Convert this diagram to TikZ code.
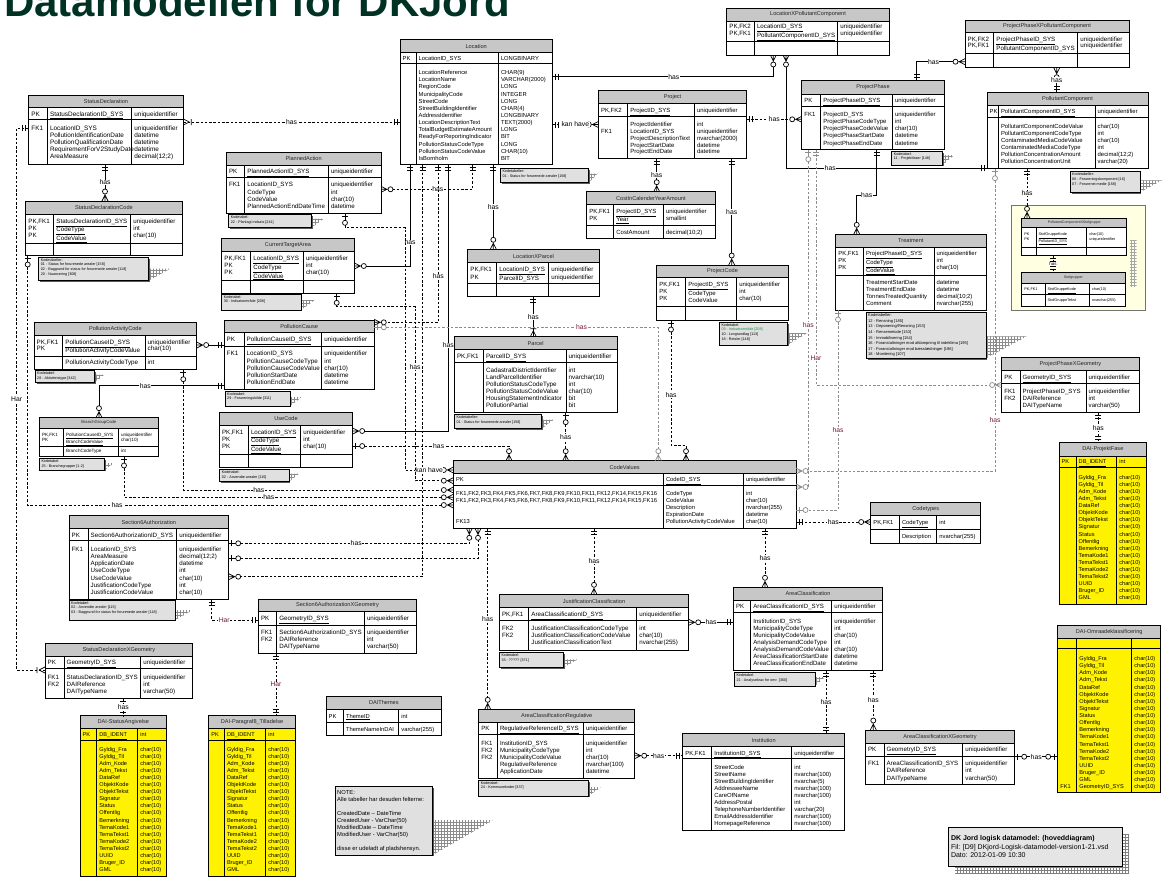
\documentclass[tikz,border=0pt]{standalone}
\usepackage{fontspec}
\setmainfont{Liberation Sans}
\usetikzlibrary{arrows.meta, patterns}

\definecolor{ttlgreen}{RGB}{0,50,36}
\definecolor{harred}{RGB}{115,25,60}
\definecolor{codegreen}{RGB}{30,140,60}
\definecolor{stofbg}{RGB}{255,255,226}

%% crow foot ends
\pgfdeclarearrow{
  name = erOne,
  setup code = {
    \pgfarrowssettipend{0pt}
    \pgfarrowssetlineend{0pt}
    \pgfarrowssetbackend{-7pt}
    \pgfarrowssetvisualbackend{-7pt}
    \pgfarrowsupperhullpoint{0pt}{3pt}
    \pgfarrowsupperhullpoint{-7pt}{3pt}
  },
  drawing code = {
    \pgfsetdash{}{0pt}
    \pgfpathmoveto{\pgfqpoint{-3pt}{3pt}}\pgfpathlineto{\pgfqpoint{-3pt}{-3pt}}
    \pgfpathmoveto{\pgfqpoint{-6pt}{3pt}}\pgfpathlineto{\pgfqpoint{-6pt}{-3pt}}
    \pgfusepathqstroke
  }
}
\pgfdeclarearrow{
  name = erZOne,
  setup code = {
    \pgfarrowssettipend{0pt}
    \pgfarrowssetlineend{-12pt}
    \pgfarrowssetbackend{-12pt}
    \pgfarrowssetvisualbackend{-12pt}
    \pgfarrowsupperhullpoint{0pt}{3pt}
    \pgfarrowsupperhullpoint{-12pt}{3pt}
  },
  drawing code = {
    \pgfsetdash{}{0pt}
    \pgfpathmoveto{\pgfqpoint{0pt}{0pt}}\pgfpathlineto{\pgfqpoint{-7pt}{0pt}}
    \pgfpathmoveto{\pgfqpoint{-3pt}{3pt}}\pgfpathlineto{\pgfqpoint{-3pt}{-3pt}}
    \pgfusepathqstroke
    \pgfpathcircle{\pgfqpoint{-9.5pt}{0pt}}{2.5pt}
    \pgfusepathqstroke
  }
}
\pgfdeclarearrow{
  name = erZMany,
  setup code = {
    \pgfarrowssettipend{0pt}
    \pgfarrowssetlineend{-12pt}
    \pgfarrowssetbackend{-12pt}
    \pgfarrowssetvisualbackend{-12pt}
    \pgfarrowsupperhullpoint{0pt}{3pt}
    \pgfarrowsupperhullpoint{-12pt}{3pt}
  },
  drawing code = {
    \pgfsetdash{}{0pt}
    \pgfpathmoveto{\pgfqpoint{-6pt}{0pt}}\pgfpathlineto{\pgfqpoint{0pt}{3pt}}
    \pgfpathmoveto{\pgfqpoint{-6pt}{0pt}}\pgfpathlineto{\pgfqpoint{0pt}{-3pt}}
    \pgfpathmoveto{\pgfqpoint{-7pt}{0pt}}\pgfpathlineto{\pgfqpoint{0pt}{0pt}}
    \pgfusepathqstroke
    \pgfpathcircle{\pgfqpoint{-9.5pt}{0pt}}{2.5pt}
    \pgfusepathqstroke
  }
}
\pgfdeclarearrow{
  name = erOMany,
  setup code = {
    \pgfarrowssettipend{0pt}
    \pgfarrowssetlineend{0pt}
    \pgfarrowssetbackend{-9pt}
    \pgfarrowssetvisualbackend{-9pt}
    \pgfarrowsupperhullpoint{0pt}{3pt}
    \pgfarrowsupperhullpoint{-9pt}{3pt}
  },
  drawing code = {
    \pgfsetdash{}{0pt}
    \pgfpathmoveto{\pgfqpoint{-6pt}{0pt}}\pgfpathlineto{\pgfqpoint{0pt}{3pt}}
    \pgfpathmoveto{\pgfqpoint{-6pt}{0pt}}\pgfpathlineto{\pgfqpoint{0pt}{-3pt}}
    \pgfpathmoveto{\pgfqpoint{-8pt}{3pt}}\pgfpathlineto{\pgfqpoint{-8pt}{-3pt}}
    \pgfusepathqstroke
  }
}

\tikzset{
  tblbox/.style={fill=\tfill, inner sep=0pt, outer sep=0pt},
  tblline/.style={line width=0.8pt},
  hdrfill/.style={fill=black!22},
  ttl/.style={inner sep=0pt, text=black!85, font=\fontsize{\tsz}{\tsz}\selectfont},
  cell/.style={anchor=north west, inner sep=0pt, align=left, font=\fontsize{\fsz}{\lsk}\selectfont},
  notebox/.style={draw, fill=black!12, line width=0.5pt, inner sep=0pt, outer sep=0pt},
  notetxt/.style={anchor=north west, inner sep=0pt, align=left, font=\fontsize{\nsz}{\nlsk}\selectfont},
  con/.style={line width=0.7pt},
  dcon/.style={con, dash pattern=on 2.5pt off 1.8pt},
  gcon/.style={dcon, draw=black!45},
  lbl/.style={fill=white, inner sep=0.4pt, font=\fontsize{6.8}{7}\selectfont},
  glbl/.style={lbl, text=harred},
}

\def\tfill{white}\def\fsz{5.9}\def\lsk{7.1}\def\tsz{5.6}
\def\nsz{3.7}\def\nlsk{4.7}

%% table : box, header, key line, two column lines
\def\ertbl#1(#2,#3)(#4,#5)[#6,#7][#8,#9]{%
  \def\tid{#1}\def\tx{#2}\def\tca{#8}\def\tcb{#9}%
  \def\tcx{(#2+#4)/2}\def\tcy{(#3+#6)/2}%
  \node[tblbox, minimum width={#4-#2}, minimum height={#5-#3}] (#1) at ({(#2+#4)/2},{(#3+#5)/2}) {};
  \fill[hdrfill] (#2,#3) rectangle (#4,#6);
  \draw[tblline] (#2,#6) -- (#4,#6) (#2,#7) -- (#4,#7) (#8,#6) -- (#8,#5) (#9,#6) -- (#9,#5);
  \draw[tblline] (#1.north west) rectangle (#1.south east);
}
\newcommand\ertitle[1]{\node[ttl] (\tid h) at ({\tcx},{\tcy}) {#1};}
%% rows of one part: suffix, centre of first row, keys, names, types
\newcommand\ersec[5]{%
  \node[cell] (\tid#1k) at ({\tx+2.5},{#2+0.36*\fsz-0.7*\lsk}) {\strut#3};
  \node[cell] (\tid#1n) at ({\tca+2.5},{#2+0.36*\fsz-0.7*\lsk}) {\strut#4};
  \node[cell] (\tid#1t) at ({\tcb+2.5},{#2+0.36*\fsz-0.7*\lsk}) {\strut#5};
}
%% code table note with shadow
\def\ernote#1(#2,#3)(#4,#5)[#6,#7]#8{%
  \fill[pattern=grid, pattern color=black!45] (#4,#5-#7) -- (#4+#6,#5-#7) -- (#4,#5) -- cycle;
  \draw[black!65, line width=1.2pt] (#2+1.5,#5+0.6) -- (#4+0.6,#5+0.6) -- (#4+0.6,#3+1.5);
  \node[notebox, minimum width={#4-#2}, minimum height={#5-#3}] (#1) at ({(#2+#4)/2},{(#3+#5)/2}) {};
  \node[notetxt] (#1x) at (#2+2,#3+1.2) {#8};
}

\def\dainames{Gyldig\_Fra\\Gyldig\_Til\\Adm\_Kode\\Adm\_Tekst\\DataRef\\ObjektKode\\ObjektTekst\\Signatur\\Status\\Offentlig\\Bemerkning\\TemaKode1\\TemaTekst1\\TemaKode2\\TemaTekst2\\UUID\\Bruger\_ID\\GML}
\def\daitypes{char(10)\\char(10)\\char(10)\\char(10)\\char(10)\\char(10)\\char(10)\\char(10)\\char(10)\\char(10)\\char(10)\\char(10)\\char(10)\\char(10)\\char(10)\\char(10)\\char(10)\\char(10)}

\begin{document}
\begin{tikzpicture}[x=1pt, y=-1pt]
\useasboundingbox (0,0) rectangle (1167,879);
\clip (0,0) rectangle (1167,879);

\node[anchor=base west, inner sep=0pt, text=ttlgreen, font=\fontsize{42}{44}\selectfont\bfseries] (title) at (4,16) {Datamodellen for DKJord};

 %% ***Table : StatusDeclaration***
\def\fsz{6.4}
\ertbl{sdecl}(28.7,95)(183.3,164)[107,119.5][47.3,131.7]
\ertitle{StatusDeclaration}
\ersec{p}{113.5}{PK}{\underline{StatusDeclarationID\_SYS}}{uniqueidentifier}
\ersec{a}{128}{FK1}{LocationID\_SYS\\PollutionIdentificationDate\\PollutionQualificationDate\\RequirementForV2StudyDate\\AreaMeasure}{uniqueidentifier\\datetime\\datetime\\datetime\\decimal(12;2)}

 %% ***Table : StatusDeclarationCode***
\def\fsz{6.2}
\ertbl{sdcode}(25.7,201)(182.3,255)[214.3,243.3][53.7,130.7]
\ertitle{StatusDeclarationCode}
\ersec{p}{220.7}{PK,FK1\\PK\\PK}{\underline{StatusDeclarationID\_SYS}\\\underline{CodeType}\\\underline{CodeValue}}{uniqueidentifier\\int\\char(10)}
\ernote{sdcnote}(38.7,257)(148.3,280.7)[22,12]{Kodetabeller:\\01 - Status for forurenede arealer [158]\\02 - Baggrund for status for forurenede arealer [118]\\20 - Nuancering [308]}

 %% ***Table : Location***
\def\fsz{5.8}\def\lsk{7.15}
\ertbl{loc}(400,39.3)(552.3,164)[52.7,63][416,498.3]
\ertitle{Location}
\ersec{p}{58}{PK}{\underline{LocationID\_SYS}}{LONGBINARY}
\ersec{a}{72.3}{}{LocationReference\\LocationName\\RegionCode\\MunicipalityCode\\StreetCode\\StreetBuildingIdentifier\\AddressIdentifier\\LocationDescriptionText\\TotalBudgetEstimateAmount\\ReadyForReportingIndicator\\PollutionStatusCodeType\\PollutionStatusCodeValue\\IsBornholm}{CHAR(9)\\VARCHAR(2000)\\LONG\\INTEGER\\LONG\\CHAR(4)\\LONGBINARY\\TEXT(2000)\\LONG\\BIT\\LONG\\CHAR(10)\\BIT}
\ernote{locnote}(500.3,168.7)(588.7,182.7)[9,9]{Kodetabeller:\\01 - Status for forurenede arealer [158]}

 %% ***Table : LocationXPollutantComponent***
\def\fsz{6.2}\def\lsk{7.3}
\ertbl{lxpc}(726.7,8)(889.3,55)[21,41.7][754.3,837.7]
\ertitle{LocationXPollutantComponent}
\ersec{p}{26}{PK,FK2\\PK,FK1}{\underline{LocationID\_SYS}\\\underline{PollutantComponentID\_SYS}}{uniqueidentifier\\uniqueidentifier}

 %% ***Table : ProjectPhaseXPollutantComponent***
\def\lsk{6.5}
\ertbl{ppxpc}(965,20)(1129,67.7)[32.3,53.3][993.7,1077.7]
\ertitle{ProjectPhaseXPollutantComponent}
\ersec{p}{39}{PK,FK2\\PK,FK1}{\underline{ProjectPhaseID\_SYS}\\\underline{PollutantComponentID\_SYS}}{uniqueidentifier\\uniqueidentifier}

 %% ***Table : ProjectPhase***
\def\fsz{6.0}\def\lsk{7.2}
\ertbl{pphase}(801.7,80.3)(944.3,149.7)[94,106][820.7,892.3]
\ertitle{ProjectPhase}
\ersec{p}{100}{PK}{\underline{ProjectPhaseID\_SYS}}{uniqueidentifier}
\ersec{a}{114}{FK1}{ProjectID\_SYS\\ProjectPhaseCodeType\\ProjectPhaseCodeValue\\ProjectPhaseStartDate\\ProjectPhaseEndDate}{uniqueidentifier\\int\\char(10)\\datetime\\datetime}
\ernote{ppnote}(891.7,151)(942.3,165)[12,10]{Kodetabel:\\11 - Projektfaser [148]}

 %% ***Table : PollutantComponent***
\def\fsz{5.9}\def\lsk{7.05}
\ertbl{pcomp}(987,92.3)(1148,168.7)[105.7,117.3][998.3,1095]
\ertitle{PollutantComponent}
\ersec{p}{111.5}{PK}{\underline{PollutantComponentID\_SYS}}{uniqueidentifier}
\ersec{a}{126}{}{PollutantComponentCodeValue\\PollutantComponentCodeType\\ContaminatedMediaCodeValue\\ContaminatedMediaCodeType\\PollutionConcentrationAmount\\PollutionConcentrationUnit}{char(10)\\int\\char(10)\\int\\decimal(12;2)\\varchar(20)}
\ernote{pcnote}(1070,171.7)(1140,192.3)[22,12]{Kodetabeller:\\06 - Forureningskomponent [16]\\07 - Forurenet medie [158]}

 %% ***Table : Project***
\def\fsz{6.0}\def\lsk{6.9}
\ertbl{proj}(598.3,90.3)(746.7,158.3)[103.3,116][627.7,694.3]
\ertitle{Project}
\ersec{p}{109.7}{PK,FK2}{\underline{ProjectID\_SYS}}{uniqueidentifier}
\ersec{a}{124}{\\FK1}{ProjectIdentifier\\LocationID\_SYS\\ProjectDescriptionText\\ProjectStartDate\\ProjectEndDate}{int\\uniqueidentifier\\nvarchar(2000)\\datetime\\datetime}

 %% ***Table : CostInCalenderYearAmount***
\def\lsk{6.7}
\ertbl{ccya}(586.7,191.7)(715,238.3)[204.3,225.7][613.7,663.3]
\ertitle{CostInCalenderYearAmount}
\ersec{p}{211}{PK,FK1\\PK}{\underline{ProjectID\_SYS}\\\underline{Year}}{uniqueidentifier\\smallint}
\ersec{a}{231.7}{}{CostAmount}{decimal(10;2)}

 %% ***Table : PlannedAction***
\def\fsz{6.2}\def\lsk{7.3}
\ertbl{plact}(226.3,152)(381,213.3)[165,177.3][244.7,328.3]
\ertitle{PlannedAction}
\ersec{p}{171.3}{PK}{\underline{PlannedActionID\_SYS}}{uniqueidentifier}
\ersec{a}{184.3}{FK1}{LocationID\_SYS\\CodeType\\CodeValue\\PlannedActionEndDateTime}{uniqueidentifier\\int\\char(10)\\datetime}
\ernote{panote}(228.7,214.3)(311.7,227.7)[12,9]{Kodetabel:\\22 - Planlagt indsats [241]}

 %% ***Table : CurrentTargetArea***
\def\lsk{7.1}
\ertbl{cta}(221.7,238.7)(354.3,293.3)[251,280.7][250.7,303.3]
\ertitle{CurrentTargetArea}
\ersec{p}{258.2}{PK,FK1\\PK\\PK}{\underline{LocationID\_SYS}\\\underline{CodeType}\\\underline{CodeValue}}{uniqueidentifier\\int\\char(10)}
\ernote{ctanote}(221.7,294)(301,310)[14,10]{Kodetabel:\\30 - Indsatsområde [208]}

 %% ***Table : LocationXParcel***
\def\lsk{7.6}
\ertbl{lxp}(467.7,249.3)(599.3,296.7)[262.7,283.3][496.7,548.7]
\ertitle{LocationXParcel}
\ersec{p}{269}{PK,FK1\\PK}{\underline{LocationID\_SYS}\\\underline{ParcelID\_SYS}}{uniqueidentifier\\uniqueidentifier}

 %% ***Table : ProjectCode***
\def\fsz{6.0}\def\lsk{7}
\ertbl{pcode}(656.7,265)(788.3,320)[277.7,306][685.7,736.7]
\ertitle{ProjectCode}
\ersec{p}{284.3}{PK,FK1\\PK\\PK}{\underline{ProjectID\_SYS}\\CodeType\\CodeValue}{uniqueidentifier\\int\\char(10)}
\ernote{pcodenote}(719.3,322)(787.3,345)[20,12]{Kodetabel:\\\textcolor{codegreen}{09 - Indsatsområde [208]}\\10 - Lovgrundlag [113]\\18 - Retsler [148]}

 %% ***Table : Treatment***
\def\fsz{5.9}\def\lsk{6.8}
\ertbl{treat}(835.7,234.3)(986,310)[247.3,275][863.3,934]
\ertitle{Treatment}
\ersec{p}{253.3}{PK,FK1\\PK\\PK}{\underline{ProjectPhaseID\_SYS}\\\underline{CodeType}\\\underline{CodeValue}}{uniqueidentifier\\int\\char(10)}
\def\lsk{7}
\ersec{a}{282.3}{}{TreatmentStartDate\\TreatmentEndDate\\TonnesTreatedQuantity\\Comment}{datetime\\datetime\\decimal(10;2)\\nvarchar(255)}
\def\nsz{4.0}\def\nlsk{5.6}
\ernote{trnote}(866,312.3)(986,358.3)[40.7,22]{Kodetabeller:\\12 - Rensning [185]\\13 - Deponering/Rensning [153]\\14 - Rensemetode [153]\\15 - Immobilisering [154]\\16 - Foranstaltninger mod afdampning til indeklima [195]\\17 - Foranstaltninger mod bæsslædninger [196]\\18 - Monitering [107]}
\def\nsz{3.7}\def\nlsk{4.7}

 %% ***Stofgruppe frame***
\node[draw=black!55, fill=stofbg, line width=0.6pt, inner sep=0pt, minimum width=133.8, minimum height=104.3] (stofframe) at (1078.6,257.85) {};
\fill[pattern=grid, pattern color=black!35] (1130,240) rectangle (1136.7,286.7);
\def\fsz{3.8}\def\lsk{4.4}\def\tsz{3.6}
\ertbl{pcxs}(1021.7,218.3)(1126.7,255.7)[227.7,247][1036,1086.7]
\ertitle{PollutantComponentXStofgruppe}
\ersec{p}{234.3}{PK\\PK}{\underline{StofGruppeKode}\\\underline{PollutantID\_SYS}}{char(10)\\uniqueidentifier}
\ertbl{stof}(1021.7,272.7)(1125,306)[283.3,294][1045,1089.3]
\ertitle{Stofgrupper}
\ersec{p}{289}{PK,FK1}{\underline{StofGruppeKode}}{char(10)}
\ersec{a}{300}{}{StofGruppeTekst}{nvarchar(255)}

 %% ***Table : ProjectPhaseXGeometry***
\def\fsz{6.1}\def\lsk{7}\def\tsz{5.6}
\ertbl{ppxg}(1001.7,357.3)(1139,412.7)[370.7,383.3][1020,1086]
\ertitle{ProjectPhaseXGeometry}
\ersec{p}{376.7}{PK}{\underline{GeometryID\_SYS}}{uniqueidentifier}
\ersec{a}{391}{FK1\\FK2}{ProjectPhaseID\_SYS\\DAIReference\\DAITypeName}{uniqueidentifier\\int\\varchar(50)}

 %% ***Table : DAI-ProjektFase***
\def\tfill{yellow}\def\fsz{5.6}\def\lsk{7.06}
\ertbl{daipf}(1059,442.7)(1146.7,604.3)[456,467.3][1076,1116.7]
\ertitle{DAI-ProjektFase}
\ersec{p}{461.7}{PK}{\underline{DB\_IDENT}}{int}
\ersec{a}{477.3}{}{\dainames}{\daitypes}

 %% ***Table : DAI-Omraadeklassificering***
\def\lsk{7.13}
\ertbl{daiok}(1057.7,625.7)(1160.7,792.7)[638.3,648.3][1076.7,1131.7]
\ertitle{DAI-Omraadeklassificering}
\ersec{a}{658.3}{\\[121.2pt]FK1}{\dainames\\GeometryID\_SYS}{\daitypes\\char(10)}

 %% ***Table : DAI-StatusAngivelse***
\def\lsk{7.08}
\ertbl{daisa}(80,715.7)(166.7,876)[728.3,740][96.7,137.7]
\ertitle{DAI-StatusAngivelse}
\ersec{p}{734.3}{PK}{\underline{DB\_IDENT}}{int}
\ersec{a}{749}{}{\dainames}{\daitypes}

 %% ***Table : DAI-Paragraf8_Tilladelse***
\ertbl{daip8}(208.7,715.7)(295.3,876)[728.3,740][224.3,265.7]
\ertitle{DAI-Paragraf8\_Tilladelse}
\ersec{p}{734.3}{PK}{\underline{DB\_IDENT}}{int}
\ersec{a}{749}{}{\dainames}{\daitypes}

 %% ***Table : CodeValues***
\def\tfill{white}\def\fsz{5.8}\def\lsk{7.1}
\ertbl{cv}(453.3,460.7)(796,528.3)[473.3,485][663.3,743.3]
\ertitle{CodeValues}
\ersec{p}{479}{PK}{\underline{CodeID\_SYS}}{uniqueidentifier}
\ersec{a}{493.3}{FK1,FK2,FK3,FK4,FK5,FK6,FK7,FK8,FK9,FK10,FK11,FK12,FK14,FK15,FK16\\FK1,FK2,FK3,FK4,FK5,FK6,FK7,FK8,FK9,FK10,FK11,FK12,FK14,FK15,FK16\\[14.2pt]FK13}{CodeType\\CodeValue\\Description\\ExpirationDate\\PollutionActivityCodeValue}{int\\char(10)\\nvarchar(255)\\datetime\\char(10)}

 %% ***Table : Codetypes***
\ertbl{ctypes}(870.7,502.7)(980.7,543.3)[515,529.3][899.3,936.7]
\ertitle{Codetypes}
\ersec{p}{522}{PK,FK1}{\underline{CodeType}}{int}
\ersec{a}{536.3}{}{Description}{nvarchar(255)}

 %% ***Table : Parcel***
\def\fsz{6.3}\def\lsk{7}
\ertbl{parcel}(454.3,336.7)(617,412.7)[349.3,362.3][483.3,566]
\ertitle{Parcel}
\ersec{p}{356}{PK,FK1}{\underline{ParcelID\_SYS}}{uniqueidentifier}
\ersec{a}{370}{}{CadastralDistrictIdentifier\\LandParcelIdentifier\\PollutionStatusCodeType\\PollutionStatusCodeValue\\HousingStatementIndicator\\PollutionPartial}{int\\nvarchar(10)\\int\\char(10)\\bit\\bit}
\ernote{parcelnote}(454.3,414.3)(541.7,428.7)[12,9]{Kodetabeller:\\01 - Status for forurenede arealer [158]}

 %% ***Table : PollutionActivityCode***
\def\lsk{6.7}
\ertbl{pac}(34,322.3)(196.7,369.7)[335,356][62.7,145]
\ertitle{PollutionActivityCode}
\ersec{p}{341.7}{PK,FK1\\PK}{\underline{PollutionCauseID\_SYS}\\\underline{PollutionActivityCodeValue}}{uniqueidentifier\\char(10)}
\ersec{a}{362.3}{}{PollutionActivityCodeType}{int}
\ernote{pacnote}(35,370.7)(94.3,382.7)[10,8]{Kodetabel:\\28 - Aktivitetstype [342]}

 %% ***Table : PollutionCause***
\def\lsk{7.25}
\ertbl{pcause}(224,320)(374.3,389)[332.7,346][244,321.7]
\ertitle{PollutionCause}
\ersec{p}{339.3}{PK}{\underline{PollutionCauseID\_SYS}}{uniqueidentifier}
\ersec{a}{353.3}{FK1}{LocationID\_SYS\\PollutionCauseCodeType\\PollutionCauseCodeValue\\PollutionStartDate\\PollutionEndDate}{uniqueidentifier\\int\\char(10)\\datetime\\datetime}
\ernote{pcausenote}(225,391)(290,406)[12,9]{Kodetabel:\\29 - Forureningskilde [311]}

 %% ***Table : BranchGroupCode***
\def\fsz{4.6}\def\lsk{5.7}\def\tsz{4.2}
\ertbl{bgc}(39.3,417.7)(158.3,456)[428,446.3][63.3,118.3]
\ertitle{BranchGroupCode}
\ersec{p}{434.3}{PK,FK1\\PK}{\underline{PollutionCauseID\_SYS}\\\underline{BranchCodeValue}}{uniqueidentifier\\char(10)}
\ersec{a}{451}{}{BranchCodeType}{int}
\ernote{bgcnote}(39.3,458.3)(104.3,470)[10,7]{Kodetabel:\\25 - Branchegrupper [1-2]}

 %% ***Table : UseCode***
\def\fsz{6.2}\def\lsk{7.2}\def\tsz{5.6}
\ertbl{usecode}(219.3,412.7)(352.7,467.3)[425,454.7][248.3,300.7]
\ertitle{UseCode}
\ersec{p}{431.7}{PK,FK1\\PK\\PK}{\underline{LocationID\_SYS}\\\underline{CodeType}\\\underline{CodeValue}}{uniqueidentifier\\int\\char(10)}
\ernote{usenote}(219.7,469.3)(289,481.7)[10,8]{Kodetabel:\\02 - Anvendte arealer [115]}

 %% ***Table : Section6Authorization***
\def\lsk{7.07}
\ertbl{s6a}(69,515.7)(228.7,599)[528.3,540.7][88,176.7]
\ertitle{Section6Authorization}
\ersec{p}{534.7}{PK}{\underline{Section6AuthorizationID\_SYS}}{uniqueidentifier}
\ersec{a}{549.3}{FK1}{LocationID\_SYS\\AreaMeasure\\ApplicationDate\\UseCodeType\\UseCodeValue\\JustificationCodeType\\JustificationCodeValue}{uniqueidentifier\\decimal(12;2)\\datetime\\int\\char(10)\\int\\char(10)}
\ernote{s6anote}(69,600)(175,620)[18,10]{Kodetabel:\\02 - Anvendte arealer [115]\\03 - Baggrund for status for forurenede arealer [118]}

 %% ***Table : Section6AuthorizationXGeometry***
\def\lsk{7.2}
\ertbl{s6axg}(258.3,599.3)(416.7,653.3)[611.7,625][276.7,364.3]
\ertitle{Section6AuthorizationXGeometry}
\ersec{p}{618}{PK}{\underline{GeometryID\_SYS}}{uniqueidentifier}
\ersec{a}{631.7}{FK1\\FK2}{Section6AuthorizationID\_SYS\\DAIReference\\DAITypeName}{uniqueidentifier\\int\\varchar(50)}

 %% ***Table : StatusDeclarationXGeometry***
\ertbl{sdxg}(45,643.3)(192.7,698.3)[656,668.3][64,140.7]
\ertitle{StatusDeclarationXGeometry}
\ersec{p}{662.3}{PK}{\underline{GeometryID\_SYS}}{uniqueidentifier}
\ersec{a}{677}{FK1\\FK2}{StatusDeclarationID\_SYS\\DAIReference\\DAITypeName}{uniqueidentifier\\int\\varchar(50)}

 %% ***Table : DAIThemes***
\def\fsz{5.8}\def\lsk{7.1}
\ertbl{daith}(326,696)(441.7,735.7)[709,722.7][343.3,398.7]
\ertitle{DAIThemes}
\ersec{p}{715.7}{PK}{\underline{ThemeID}}{int}
\ersec{a}{729}{}{ThemeNameInDAI}{varchar(255)}

 %% ***Table : JustificationClassification***
\def\fsz{6.2}\def\lsk{7}
\ertbl{jc}(499.3,594.3)(688.7,650)[607.7,620.3][528.7,636.7]
\ertitle{JustificationClassification}
\ersec{p}{614}{PK,FK1}{\underline{AreaClassificationID\_SYS}}{uniqueidentifier}
\ersec{a}{628.3}{FK2\\FK2}{JustificationClassificationCodeType\\JustificationClassificationCodeValue\\JustificationClassificationText}{int\\char(10)\\nvarchar(255)}
\ernote{jcnote}(499.3,652.3)(563.7,667.3)[14,8]{Kodetabel:\\33 - ????? [371]}

 %% ***Table : AreaClassificationRegulative***
\def\fsz{6.1}\def\lsk{7.1}
\ertbl{acr}(478.7,709.3)(634.7,778.3)[722.3,734][497.3,583.3]
\ertitle{AreaClassificationRegulative}
\ersec{p}{728.3}{PK}{\underline{RegulativeReferenceID\_SYS}}{uniqueidentifier}
\ersec{a}{742.7}{FK1\\FK2\\FK2}{InstitutionID\_SYS\\MunicipalityCodeType\\MunicipalityCodeValue\\RegulativeReference\\ApplicationDate}{uniqueidentifier\\int\\char(10)\\nvarchar(100)\\datetime}
\ernote{acrnote}(478.7,780)(588.3,796)[13,9]{Kodetabel:\\24 - Kommunekoder [337]}

 %% ***Table : AreaClassification***
\ertbl{ac}(733.3,587.3)(882.7,670.7)[600,612.3][750.7,831.7]
\ertitle{AreaClassification}
\ersec{p}{606.3}{PK}{\underline{AreaClassificationID\_SYS}}{uniqueidentifier}
\ersec{a}{620.7}{}{InstitutionID\_SYS\\MunicipalityCodeType\\MunicipalityCodeValue\\AnalysisDemandCodeType\\AnalysisDemandCodeValue\\AreaClassificationStartDate\\AreaClassificationEndDate}{uniqueidentifier\\int\\char(10)\\int\\char(10)\\datetime\\datetime}
\ernote{acnote}(734.3,672.7)(815,686)[10,9]{Kodetabel:\\21 - Analysekrav for omr. [360]}

 %% ***Table : Institution***
\def\fsz{5.9}\def\lsk{7.08}
\ertbl{inst}(682.7,733.3)(844.7,830)[746.7,758.3][711.7,791.7]
\ertitle{Institution}
\ersec{p}{752.7}{PK,FK1}{\underline{InstitutionID\_SYS}}{uniqueidentifier}
\ersec{a}{766.7}{}{StreetCode\\StreetName\\StreetBuildingIdentifier\\AddresseeName\\CareOfName\\AddressPostal\\TelephoneNumberIdentifier\\EmailAddressIdentifier\\HomepageReference}{int\\nvarchar(100)\\nvarchar(5)\\nvarchar(100)\\nvarchar(100)\\int\\varchar(20)\\nvarchar(100)\\nvarchar(100)}

 %% ***Table : AreaClassificationXGeometry***
\def\fsz{6.2}\def\lsk{7.2}
\ertbl{acxg}(865.3,730)(1014.7,784)[743.3,756][884,962.7]
\ertitle{AreaClassificationXGeometry}
\ersec{p}{749.3}{PK}{\underline{GeometryID\_SYS}}{uniqueidentifier}
\ersec{a}{763.3}{FK1}{AreaClassificationID\_SYS\\DAIReference\\DAITypeName}{uniqueidentifier\\int\\varchar(50)}

 %% ***NOTE***
\fill[pattern=grid, pattern color=black!45] (432.7,820) -- (493.3,820) -- (432.7,855) -- cycle;
\draw[black!65, line width=1.2pt] (336.5,855.6) -- (433.3,855.6) -- (433.3,787.5);
\node[notebox, minimum width=97.7, minimum height=69] (notebox) at (383.85,820.5) {};
\node[anchor=north west, inner sep=0pt, align=left, font=\fontsize{5.8}{7}\selectfont] (notetext) at (337,788.9) {\strut NOTE:\\Alle tabeller har desuden felterne:\\\\CreatedDate -- DateTime\\CreatedUser - VarChar(50)\\ModifiedDate -- DateTime\\ModifiedUser - VarChar(50)\\\\disse er udeladt af pladshensyn.};

 %% ***Drawing title***
\fill[pattern=grid, pattern color=black!50] (955,834) rectangle (1129.2,873.2);
\node[draw, fill=black!10, line width=0.8pt, inner sep=0pt, minimum width=174, minimum height=39] (dkbox) at (1035.7,847.2) {};
\node[anchor=north west, inner sep=0pt, align=left, font=\fontsize{7}{8.7}\selectfont] (dktext) at (950.8,834.1) {\strut\textbf{DK Jord logisk datamodel: (hoveddiagram)}\\Fil: [D9] DKjord-Logisk-datamodel-version1-21.vsd\\Dato: 2012-01-09 10:30};

 %% ***Relations : StatusDeclaration***
\draw[dcon, {erOMany}-{erOne}] (sdecl.east |- 0,122) -- node[lbl]{has} (loc.west |- 0,122);
\draw[con, {erOne}-{erZMany}] (sdecl.south -| 105,0) -- node[lbl]{has} (sdcode.north -| 105,0);
\draw[dcon, {erOne}-{erOMany}] (sdecl.west |- 0,128) -- (16.7,128) -- node[lbl]{Har} (16.7,670) -- (sdxg.west |- 0,670);
\draw[dcon, {erZOne}-{erZMany}] (sdcode.south -| 27.7,0) -- (27.7,505) -- node[lbl, pos=0.21]{has} (cv.west |- 0,505);
\draw[dcon, {erOne}-{erOne}] (sdxg.south -| 123.3,0) -- node[lbl]{has} (daisa.north -| 123.3,0);

 %% ***Relations : Location***
\draw[con, {erOne}-{erZMany}] (loc.east |- 0,76.7) -- node[lbl, pos=0.55]{has} (773.3,76.7) -- (lxpc.south -| 773.3,0);
\draw[dcon, {erOne}-{erZMany}] (loc.east |- 0,124.5) -- node[lbl]{kan have} (proj.west |- 0,124.5);
\draw[con, {erOne}-{erZMany}] (loc.south -| 410,0) -- node[lbl, pos=0.77]{has} (410,266) -- (cta.east |- 0,266);
\draw[dcon, {erOne}-{erZMany}] (loc.south -| 472.7,0) -- (472.7,189.3) -- node[lbl, pos=0.38]{has} (plact.east |- 0,189.3);
\draw[con, {erOne}-{erZMany}] (loc.south -| 493.3,0) -- node[lbl]{has} (lxp.north -| 493.3,0);
\draw[con, {erOne}-{erOMany}] (lxp.south -| 533.3,0) -- node[lbl]{has} (parcel.north -| 533.3,0);
\draw[dcon, {erOne}-{erZMany}] (loc.south -| 438.3,0) -- node[lbl, pos=0.71]{has} (438.3,322.3) -- (pcause.east |- 0,322.3);
\draw[con, {erOne}-{erZMany}] (loc.south -| 448.3,0) -- node[lbl, pos=0.68]{has} (448.3,431) -- (usecode.east |- 0,431);
\draw[dcon, {erOne}-{erZMany}] (loc.south -| 422.7,0) -- (422.7,576.7) -- (s6a.east |- 0,576.7);

 %% ***Relations : Project***
\draw[dcon, {erOne}-{erZMany}] (proj.east |- 0,119.3) -- node[lbl]{has} (pphase.west |- 0,119.3);
\draw[con, {erOne}-{erZMany}] (proj.south -| 656.7,0) -- node[lbl]{has} (ccya.north -| 656.7,0);
\draw[con, {erOne}-{erZMany}] (proj.south -| 731.7,0) -- node[lbl]{has} (pcode.north -| 731.7,0);

 %% ***Relations : PollutantComponent / ProjectPhase***
\draw[con, {erZMany}-{erOne}] (lxpc.south -| 786,0) -- (786,168.3) -- node[lbl, pos=0.22]{has} (pcomp.west |- 0,168.3);
\draw[con, {erOne}-{erZMany}] (pphase.north -| 916.7,0) -- (916.7,61.7) -- node[lbl, pos=0.35]{has} (ppxpc.west |- 0,61.7);
\draw[con, {erOne}-{erZMany}] (pcomp.north -| 1056.7,0) -- node[lbl]{has} (ppxpc.south -| 1056.7,0);
\draw[con, {erOne}-{erZMany}] (pphase.south -| 876.7,0) -- (876.7,195) -- node[lbl]{has} (856.7,195) -- (treat.north -| 856.7,0);
\draw[gcon, {erOne}-{erZMany}] (pphase.south -| 816,0) -- node[glbl, pos=0.885]{Har} (816,385) -- (ppxg.west |- 0,385);
\draw[dcon, {erOne}-{erZMany}] (pcomp.south -| 1027,0) -- node[lbl]{has} (pcxs.north -| 1027,0);
\draw[dcon, {erOne}-{erOne}] (pcxs.south -| 1053,0) -- node[lbl, font=\fontsize{4.5}{5}\selectfont]{has} (stof.north -| 1053,0);
\draw[dcon, {erOne}-{erOne}] (ppxg.south -| 1098.3,0) -- node[lbl]{has} (daipf.north -| 1098.3,0);

 %% ***Relations : CodeValues, right side***
\draw[gcon, {erZOne}-{erZMany}] (pphase.south -| 808.3,0) -- node[glbl, pos=0.52]{has} (808.3,487) -- (cv.east |- 0,487);
\draw[gcon, {erZOne}-{erZMany}] (pcomp.south -| 995,0) -- node[glbl, pos=0.83]{has} (995,471) -- (cv.east |- 0,471);
\draw[gcon, {erZOne}-{erZOne}] (treat.south -| 838,0) -- node[glbl, pos=0.6]{has} (838,510) -- (cv.east |- 0,510);
\draw[dcon, {erZMany}-{erOne}] (ctypes.west |- 0,522) -- node[lbl]{has} (cv.east |- 0,522);

 %% ***Relations : CodeValues, top***
\draw[dcon, {erZOne}-{erZMany}] (pcode.south -| 671,0) -- node[lbl, pos=0.6]{has} (671,445) -- (686,445) -- (cv.north -| 686,0);
\draw[dcon, {erZOne}-{erZMany}] (parcel.south -| 565.7,0) -- node[lbl]{has} (cv.north -| 565.7,0);
\draw[gcon, {erZOne}-{erZMany}] (pcause.east |- 0,327.3) -- node[glbl, pos=0.73]{has} (658.3,327.3) -- (cv.north -| 658.3,0);
\draw[dcon, {erZOne}-{erZMany}] (usecode.east |- 0,446) -- node[lbl, pos=0.55]{has} (509,446) -- (cv.north -| 509,0);

 %% ***Relations : CodeValues, left side***
\draw[dcon, {erZOne}-{erZMany}] (plact.south -| 345,0) -- (345,227.7) -- (405,227.7) -- (405,470) -- node[lbl]{kan have} (cv.west |- 0,470);
\draw[dcon, {erZOne}-{erZMany}] (cta.south -| 336.7,0) -- (336.7,306.5) -- (415,306.5) -- node[lbl, pos=0.35]{has} (415,480.7) -- (cv.west |- 0,480.7);
\draw[dcon, {erZOne}-{erZMany}] (pac.south -| 183.3,0) -- (183.3,490) -- node[lbl, pos=0.28]{has} (cv.west |- 0,490);
\draw[dcon, {erZOne}-{erZMany}] (bgc.south -| 124,0) -- (124,497.3) -- node[lbl, pos=0.44]{has} (cv.west |- 0,497.3);

 %% ***Relations : PollutionCause***
\draw[con, {erZMany}-{erOne}] (pac.east |- 0,345) -- (pcause.west |- 0,345);
\draw[con, {erOne}-{erZMany}] (pcause.west |- 0,385.7) -- node[lbl, pos=0.63]{has} (99,385.7) -- (bgc.north -| 99,0);

 %% ***Relations : Section6Authorization***
\draw[dcon, {erZOne}-{erZMany}] (s6a.east |- 0,543.3) -- node[lbl, pos=0.53]{has} (469.3,543.3) -- (cv.south -| 469.3,0);
\draw[dcon, {erZOne}-{erZMany}] (s6a.east |- 0,558.3) -- (478,558.3) -- (cv.south -| 478,0);
\draw[dcon, {erOne}-{erOne}] (s6a.south -| 211.7,0) -- (211.7,620) -- node[glbl, pos=0.27]{Har} (s6axg.west |- 0,620);
\draw[dcon, {erOne}-{erOne}] (s6axg.south -| 276,0) -- node[glbl]{Har} (daip8.north -| 276,0);

 %% ***Relations : AreaClassification***
\draw[dcon, {erOne}-{erZMany}] (cv.south -| 487.7,0) -- node[lbl]{has} (acr.north -| 487.7,0);
\draw[dcon, {erOne}-{erZMany}] (cv.south -| 594,0) -- node[lbl]{has} (jc.north -| 594,0);
\draw[dcon, {erOne}-{erZMany}] (cv.south -| 765,0) -- node[lbl]{has} (ac.north -| 765,0);
\draw[con, {erZMany}-{erOne}] (jc.east |- 0,622.3) -- node[lbl]{has} (ac.west |- 0,622.3);
\draw[dcon, {erZMany}-{erOne}] (acr.east |- 0,755.7) -- node[lbl]{has} (inst.west |- 0,755.7);
\draw[dcon, {erOne}-{erOne}] (ac.south -| 826,0) -- node[lbl]{has} (inst.north -| 826,0);
\draw[dcon, {erOne}-{erZMany}] (ac.south -| 873.3,0) -- node[lbl]{has} (acxg.north -| 873.3,0);
\draw[con, {erZOne}-{erZOne}] (acxg.east |- 0,756.7) -- node[lbl]{has} (daiok.west |- 0,756.7);

\end{tikzpicture}
\end{document}
